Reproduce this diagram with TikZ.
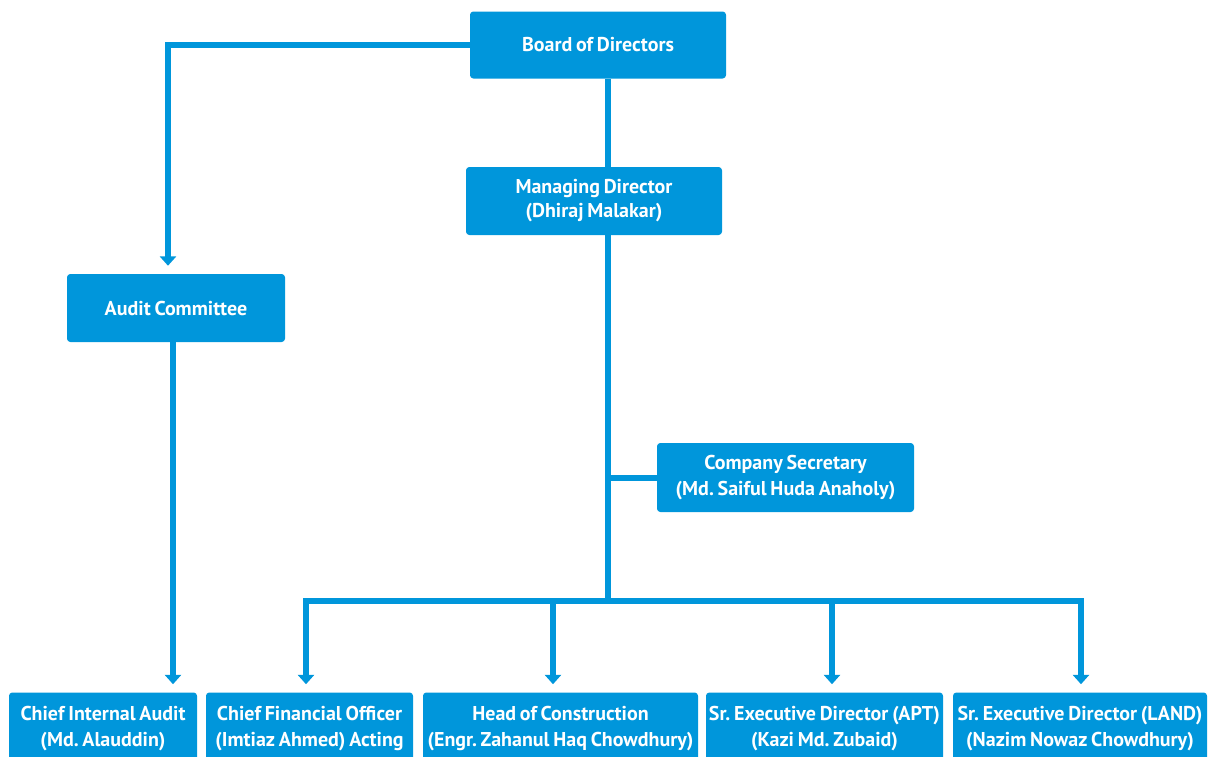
\documentclass[tikz,border=0pt]{standalone}
\usepackage{fontspec}
\setmainfont{PT Sans}[WordSpace=0.75]
\frenchspacing
\usetikzlibrary{arrows.meta}
\definecolor{brand}{RGB}{0,150,219}
\begin{document}
\begin{tikzpicture}[x=0.75pt,y=-0.75pt,
  box/.style={fill=brand, rounded corners=2.5pt, text=white, inner sep=0pt,
    align=center, font=\bfseries\frenchspacing\fontsize{15pt}{20pt}\selectfont},
  link/.style={draw=brand, line width=4.5pt},
  arr/.style={link, -{Triangle[width=12pt,length=7pt]}, shorten >=6pt}]
\useasboundingbox (0,0) rectangle (1208,757);

% boxes
\node[box, minimum width=192pt, minimum height=50.25pt] (board) at (598,45) {Board of Directors};
\node[box, minimum width=192pt, minimum height=51pt] (md) at (594,201) {Managing Director\\[-2pt](Dhiraj Malakar)};
\node[box, minimum width=163.5pt, minimum height=51pt] (audit) at (176,308) {Audit Committee};
\node[box, minimum width=192.75pt, minimum height=51.75pt] (cs) at (785.5,477.5) {Company Secretary\\(Md. Saiful Huda Anaholy)};
\node[box, minimum width=141pt, minimum height=54pt] (cia) at (103,728.5) {Chief Internal Audit\\(Md. Alauddin)};
\node[box, minimum width=155.25pt, minimum height=54pt] (cfo) at (309.5,728.5) {Chief Financial Officer\\(Imtiaz Ahmed) Acting};
\node[box, minimum width=206.25pt, minimum height=54pt] (hoc) at (560.5,728.5) {Head of Construction\\(Engr. Zahanul Haq Chowdhury)};
\node[box, minimum width=177.75pt, minimum height=54pt] (apt) at (824.5,728.5) {Sr. Executive Director (APT)\\(Kazi Md. Zubaid)};
\node[box, minimum width=190.5pt, minimum height=54pt] (land) at (1080,728.5) {Sr. Executive Director (LAND)\\(Nazim Nowaz Chowdhury)};

% routing points
\coordinate (auditline) at (168,0);
\coordinate (ciaLine) at (173,0);
\coordinate (trunk) at (608,0);
\coordinate (busC) at (608,601);
\coordinate (b1) at (306,601);
\coordinate (b2) at (553,601);
\coordinate (b3) at (832,601);
\coordinate (b4) at (1081,601);

% connectors
\draw[arr] (board.west) -| (audit.north -| auditline);
\draw[arr] (audit.south -| ciaLine) -- (cia.north -| ciaLine);
\draw[link] (board.south -| trunk) -- (md.north -| trunk);
\draw[link] (md.south -| trunk) -- (busC);
\draw[link] (cs.west) -- (cs.west -| trunk);
\draw[link, line cap=rect] (b1) -- (b4);
\draw[arr] (b1) -- (b1 |- cfo.north);
\draw[arr] (b2) -- (b2 |- hoc.north);
\draw[arr] (b3) -- (b3 |- apt.north);
\draw[arr] (b4) -- (b4 |- land.north);
\end{tikzpicture}
\end{document}
